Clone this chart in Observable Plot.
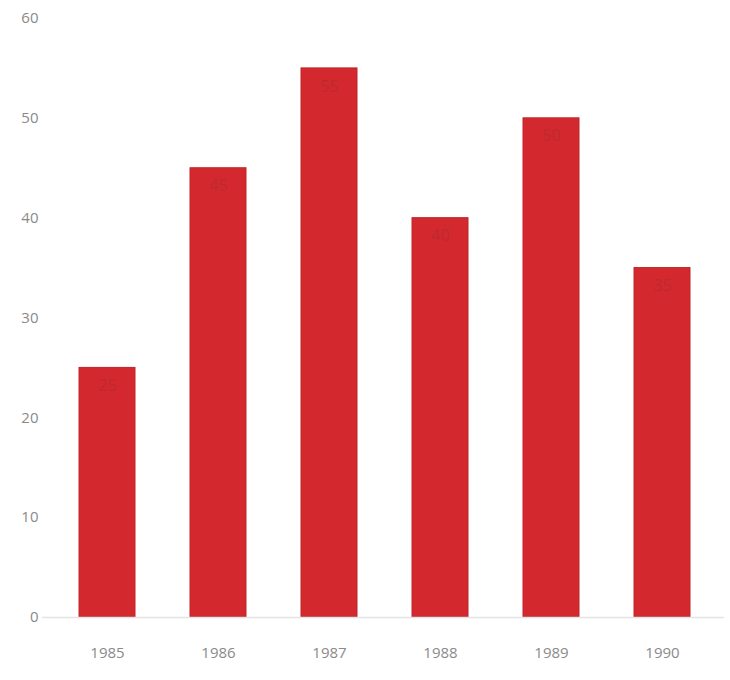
<!DOCTYPE html>
<html>
<head>
<meta charset="utf-8">
<script src="https://cdn.jsdelivr.net/npm/d3@7"></script>
<script src="https://cdn.jsdelivr.net/npm/@observablehq/plot@0.6"></script>
<style>
  html, body { margin: 0; padding: 0; background: #fff; }
  #chart svg { display: block; }
</style>
</head>
<body>
<div id="chart"></div>
<script>
const years = ["1985", "1986", "1987", "1988", "1989", "1990"];
const values = [25, 45, 55, 40, 50, 35];
const yTicks = [0, 10, 20, 30, 40, 50, 60];

const data = years.map((y, i) => ({year: y, value: values[i]}));

const chart = Plot.plot({
  width: 730,
  height: 680,
  marginLeft: 49,
  marginRight: 11,
  marginTop: 18,
  marginBottom: 63,
  style: {fontFamily: "'Open Sans', sans-serif", fontSize: "15px", color: "#8a8a8a", background: "#fff"},
  x: {domain: years, paddingInner: 0.5, paddingOuter: 0.25, label: null, tickSize: 0, tickPadding: 30},
  y: {domain: [0, 60], ticks: yTicks, label: null, tickSize: 0, tickPadding: 11},
  marks: [
    Plot.barY(data, {x: "year", y: "value", fill: "#d4282f", stroke: "#bf2429", strokeWidth: 1}),
    Plot.ruleY([0], {stroke: "#e4e4e4", strokeWidth: 1.5, insetLeft: -7, insetRight: -5}),
    Plot.text(data, {x: "year", y: "value", text: d => String(d.value), dy: 18, fill: "#bd2a2e", fontSize: 16})
  ]
});
document.getElementById("chart").appendChild(chart);
</script>
</body>
</html>
